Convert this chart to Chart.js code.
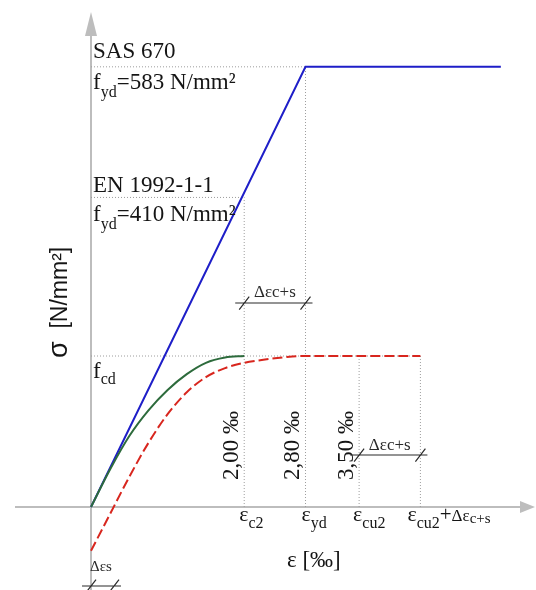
<!DOCTYPE html>
<html>
<head>
<meta charset="utf-8">
<script src="https://cdn.jsdelivr.net/npm/chart.js@4.4.1/dist/chart.umd.min.js"></script>
<style>
  html, body { margin: 0; padding: 0; background: #ffffff; }
  #wrap { position: relative; width: 536px; height: 590px; }
</style>
</head>
<body>
<div id="wrap"><canvas id="c"></canvas></div>
<script>
// Strain values [‰]
const epsC2 = 2.0;
const epsYd = 2.8;
const epsCu2 = 3.5;
const dEpsCS = 0.8;   // Δε c+s
const dEpsS = 0.3;    // Δε s

// Stress levels [N/mm²]
const fydSAS = 583;
const fydEN = 410;
const fcd = 200;

// Labels
const strainTickLabels = ['2,00 ‰', '2,80 ‰', '3,50 ‰'];

// Steel, bilinear (SAS 670)
const steelStrain = [0, epsYd, 5.35];
const steelStress = [0, fydSAS, fydSAS];

// Concrete, parabola-rectangle
const concreteStrain = [0, 0.25, 0.5, 0.75, 1.0, 1.25, 1.5, 1.75, 2.0];
const concreteStress = [0, 50, 94, 128, 155, 176, 191, 198, 200];

// Concrete shifted by the steel strain offset
const shiftedStrain = [0, 0.25, 0.5, 0.75, 1.0, 1.25, 1.5, 1.75, 2.0, 2.25, 2.5, 2.75, 4.3];
const shiftedStress = [-58, -9, 40, 85, 123, 152, 172, 184, 191, 195, 198, 200, 200];

const pts = (xs, ys) => xs.map((x, i) => ({ x: x, y: ys[i] }));

const guideStyle = {
  borderColor: '#9c9c9c', borderWidth: 1, borderDash: [1, 2],
  pointRadius: 0, showLine: true, fill: false
};
const guide = (a, b) => Object.assign({ data: [a, b] }, guideStyle);

const datasets = [
  { data: pts(shiftedStrain, shiftedStress), borderColor: '#d8261e', borderWidth: 2,
    borderDash: [10, 4], pointRadius: 0, showLine: true, cubicInterpolationMode: 'monotone' },
  { data: pts(concreteStrain, concreteStress), borderColor: '#2d6b3c', borderWidth: 2,
    pointRadius: 0, showLine: true, cubicInterpolationMode: 'monotone' },
  { data: pts(steelStrain, steelStress), borderColor: '#1e1ec8', borderWidth: 2,
    pointRadius: 0, showLine: true },
  guide({ x: 0, y: fydSAS }, { x: epsYd, y: fydSAS }),
  guide({ x: 0, y: fydEN }, { x: epsC2, y: fydEN }),
  guide({ x: 0, y: fcd }, { x: epsCu2 + dEpsCS, y: fcd }),
  guide({ x: epsC2, y: 0 }, { x: epsC2, y: fydEN }),
  guide({ x: epsYd, y: 0 }, { x: epsYd, y: fydSAS }),
  guide({ x: epsCu2, y: 0 }, { x: epsCu2, y: fcd }),
  guide({ x: epsCu2 + dEpsCS, y: 0 }, { x: epsCu2 + dEpsCS, y: fcd })
];

const SERIF = '"Liberation Serif", "Times New Roman", serif';
const SANS = '"Liberation Sans", Arial, sans-serif';

// Draws a run of text pieces of different sizes / vertical offsets
function drawRuns(ctx, x, y, parts, family) {
  for (const p of parts) {
    ctx.font = p.s + 'px ' + family;
    ctx.fillText(p.t, x, y + (p.dy || 0));
    x += ctx.measureText(p.t).width;
  }
  return x;
}

// Dimension line with slanted end ticks
function dimension(ctx, x1, x2, y) {
  ctx.save();
  ctx.strokeStyle = '#2a2a2a';
  ctx.lineWidth = 1.2;
  ctx.beginPath();
  ctx.moveTo(x1 - 9, y); ctx.lineTo(x2 + 7, y);
  for (const x of [x1, x2]) {
    ctx.moveTo(x - 5, y + 6.5); ctx.lineTo(x + 5, y - 6.5);
  }
  ctx.stroke();
  ctx.restore();
}

const annotate = {
  id: 'annotate',
  beforeDatasetsDraw(chart) {
    const ctx = chart.ctx;
    const X = v => chart.scales.x.getPixelForValue(v);
    const Y = v => chart.scales.y.getPixelForValue(v);
    const x0 = X(0), y0 = Y(0);
    ctx.save();
    ctx.strokeStyle = '#bdbdbd';
    ctx.fillStyle = '#bdbdbd';
    ctx.lineWidth = 2;
    // horizontal axis
    ctx.beginPath(); ctx.moveTo(15, y0); ctx.lineTo(522, y0); ctx.stroke();
    ctx.beginPath(); ctx.moveTo(535, y0); ctx.lineTo(520, y0 - 6); ctx.lineTo(520, y0 + 6); ctx.closePath(); ctx.fill();
    // vertical axis
    ctx.beginPath(); ctx.moveTo(x0, 590); ctx.lineTo(x0, 34); ctx.stroke();
    ctx.beginPath(); ctx.moveTo(x0, 12); ctx.lineTo(x0 - 6, 36); ctx.lineTo(x0 + 6, 36); ctx.closePath(); ctx.fill();
    ctx.restore();
  },
  afterDatasetsDraw(chart) {
    const ctx = chart.ctx;
    const X = v => chart.scales.x.getPixelForValue(v);
    const Y = v => chart.scales.y.getPixelForValue(v);
    const x0 = X(0), y0 = Y(0);
    ctx.save();
    ctx.fillStyle = '#151515';
    ctx.textAlign = 'left';
    ctx.textBaseline = 'alphabetic';

    // stress level labels
    const ySAS = Y(fydSAS), yEN = Y(fydEN), yC = Y(fcd);
    drawRuns(ctx, x0 + 2, ySAS - 9, [{ t: 'SAS 670', s: 23 }], SERIF);
    drawRuns(ctx, x0 + 2, ySAS + 22, [{ t: 'f', s: 23 }, { t: 'yd', s: 16, dy: 8 }, { t: '=583 N/mm²', s: 23 }], SERIF);
    drawRuns(ctx, x0 + 2, yEN - 5, [{ t: 'EN 1992-1-1', s: 23 }], SERIF);
    drawRuns(ctx, x0 + 2, yEN + 24, [{ t: 'f', s: 23 }, { t: 'yd', s: 16, dy: 8 }, { t: '=410 N/mm²', s: 23 }], SERIF);
    drawRuns(ctx, x0 + 2, yC + 22, [{ t: 'f', s: 23 }, { t: 'cd', s: 16, dy: 6 }], SERIF);

    // rotated strain values
    [epsC2, epsYd, epsCu2].forEach((e, i) => {
      ctx.save();
      ctx.translate(X(e) - 6, y0 - 27);
      ctx.rotate(-Math.PI / 2);
      ctx.font = '23px ' + SERIF;
      ctx.fillText(strainTickLabels[i], 0, 0);
      ctx.restore();
    });

    // strain symbols under the axis
    drawRuns(ctx, X(epsC2) - 5, y0 + 14, [{ t: 'ε', s: 22 }, { t: 'c2', s: 16, dy: 7 }], SERIF);
    drawRuns(ctx, X(epsYd) - 4, y0 + 14, [{ t: 'ε', s: 22 }, { t: 'yd', s: 16, dy: 7 }], SERIF);
    drawRuns(ctx, X(epsCu2) - 6, y0 + 14, [{ t: 'ε', s: 22 }, { t: 'cu2', s: 16, dy: 7 }], SERIF);
    drawRuns(ctx, X(epsCu2 + dEpsCS) - 13, y0 + 14,
      [{ t: 'ε', s: 22 }, { t: 'cu2', s: 16, dy: 7 }, { t: '+', s: 21 }, { t: 'Δε', s: 17 }, { t: 'c+s', s: 15, dy: 2 }], SERIF);

    // axis titles
    drawRuns(ctx, x0 + 196, y0 + 60, [{ t: 'ε', s: 23 }, { t: ' [‰]', s: 23 }], SERIF);
    ctx.save();
    ctx.translate(x0 - 24, y0 - 149);
    ctx.rotate(-Math.PI / 2);
    drawRuns(ctx, 0, 0, [{ t: 'σ', s: 27 }, { t: '  [N/mm²]', s: 23 }], SANS);
    ctx.restore();

    // dimension markers
    const yTop = y0 - 204, yBot = y0 - 52, yS = y0 + 79;
    dimension(ctx, X(epsC2), X(epsYd), yTop);
    dimension(ctx, X(epsCu2), X(epsCu2 + dEpsCS), yBot);
    dimension(ctx, X(0), X(dEpsS), yS);
    ctx.fillStyle = '#2a2a2a';
    const dimText = (xm, y) => {
      ctx.font = '17px ' + SERIF;
      const w = ctx.measureText('Δεc+s').width;
      ctx.fillText('Δεc+s', xm - w / 2, y);
    };
    dimText((X(epsC2) + X(epsYd)) / 2, yTop - 6);
    dimText((X(epsCu2) + X(epsCu2 + dEpsCS)) / 2, yBot - 5);
    ctx.font = '15px ' + SERIF;
    ctx.fillText('Δεs', x0 - 1, yS - 15);
    ctx.restore();
  }
};

new Chart(document.getElementById('c'), {
  type: 'scatter',
  data: { datasets: datasets },
  options: {
    responsive: true,
    maintainAspectRatio: false,
    animation: false,
    layout: { padding: 0 },
    plugins: { legend: { display: false }, tooltip: { enabled: false } },
    scales: {
      x: { type: 'linear', min: -1.188, max: 5.809, display: false },
      y: { type: 'linear', min: -109.9, max: 671.5, display: false }
    }
  },
  plugins: [annotate]
});
</script>
</body>
</html>
